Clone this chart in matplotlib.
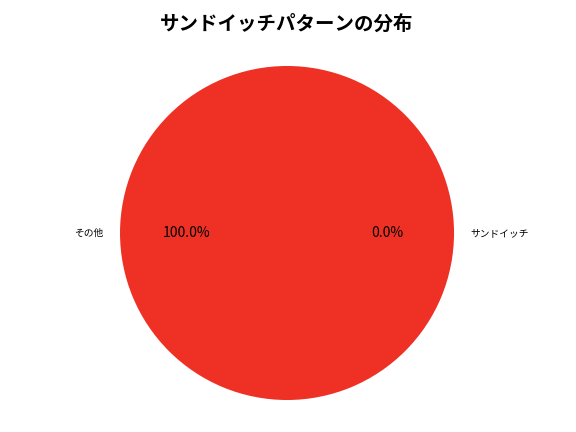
import matplotlib
matplotlib.use("Agg")
import matplotlib.pyplot as plt

plt.rcParams['font.family'] = ['Noto Sans CJK JP', 'DejaVu Sans']

labels = ['サンドイッチ', 'その他']
values = [0, 100]
colors = ['#3b7dd8', '#ee3124']

fig, ax = plt.subplots(figsize=(5.76, 4.32), dpi=100)
wedges, texts, autotexts = ax.pie(values, labels=labels, colors=colors,
                                  autopct='%1.1f%%', textprops={'fontsize': 10})
for t in texts:
    t.set_fontsize(7)
ax.axis('equal')
ax.set_title('サンドイッチパターンの分布', fontsize=14, fontweight='bold', pad=14)
ax.set_position([0.0483, 0.0354, 0.9, 0.8505])
fig.savefig('out.png')
